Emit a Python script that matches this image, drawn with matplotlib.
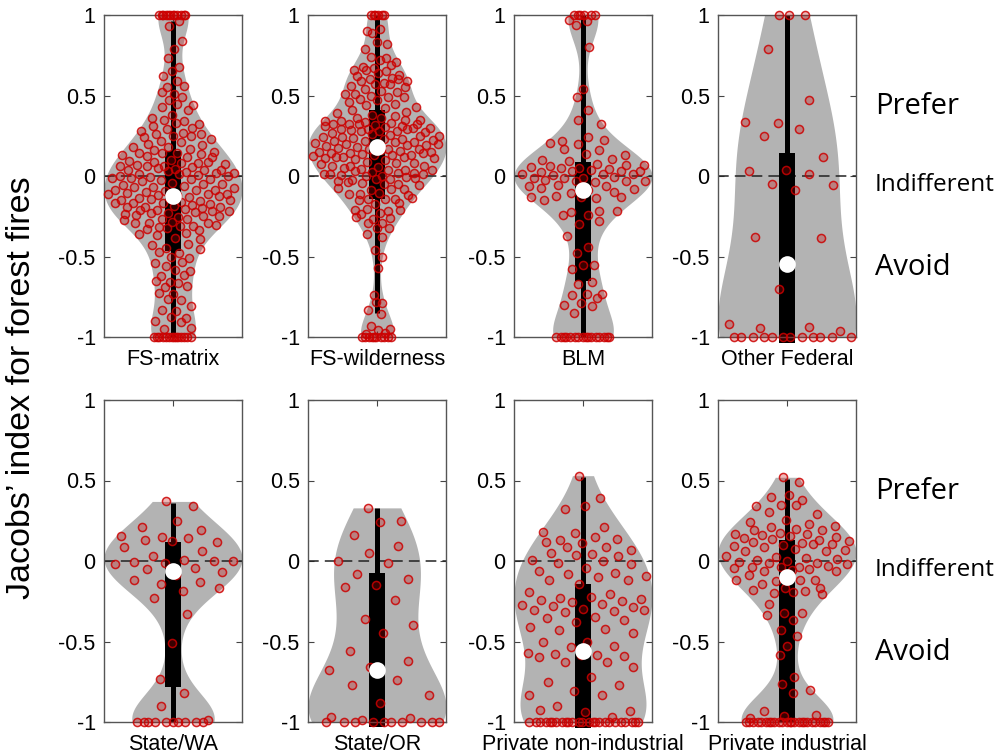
import numpy as np
import matplotlib
matplotlib.use("Agg")
import matplotlib.pyplot as plt


kategorije = ["FS-matrix", "FS-wilderness", "BLM", "Other Federal",
              "State/WA", "State/OR", "Private non-industrial", "Private industrial"]

fs_matrix = [
    1.0, 1.0, 1.0, 1.0, 1.0, 1.0, 1.0, 1.0, 1.0, 1.0, 1.0, 1.0,
    0.96, 0.93, 0.84, 0.79, 0.73, 0.68, 0.65, 0.62, 0.59, 0.55, 0.56, 0.51,
    0.52, 0.49, 0.47, 0.44, 0.45, 0.43, 0.41, 0.38, 0.36, 0.34, 0.35, 0.32,
    0.33, 0.31, 0.30, 0.29, 0.28, 0.27, 0.26, 0.26, 0.25, 0.24, 0.25, 0.22,
    0.23, 0.21, 0.20, 0.19, 0.18, 0.18, 0.17, 0.16, 0.15,
    0.14, 0.145, 0.135, 0.14, 0.13, 0.12, 0.125, 0.115, 0.10, 0.095, 0.08,
    0.085, 0.075, 0.08, 0.07, 0.09, 0.06, 0.065, 0.055, 0.06, 0.04, 0.045,
    0.035, 0.04, 0.05, 0.02, 0.025, 0.015, 0.02, 0.03, 0.0, 0.005, -0.005,
    0.0, 0.01, -0.01,
    -0.02, -0.025, -0.015, -0.02, -0.03, -0.05, -0.045, -0.055, -0.05, -0.07,
    -0.075, -0.065, -0.07, -0.09, -0.095, -0.085, -0.09, -0.10, -0.11, -0.115,
    -0.105, -0.11, -0.12, -0.11, -0.13, -0.135, -0.125, -0.13, -0.15, -0.155,
    -0.145, -0.15, -0.16, -0.17, -0.175, -0.165, -0.17, -0.18, -0.19, -0.195,
    -0.185, -0.19, -0.20, -0.21, -0.215, -0.205, -0.21, -0.22, -0.23, -0.235,
    -0.225, -0.23, -0.25, -0.255, -0.245, -0.25, -0.27, -0.275, -0.265, -0.29,
    -0.295, -0.285, -0.29, -0.31, -0.315, -0.305, -0.31, -0.33, -0.335, -0.325,
    -0.36, -0.355, -0.365, -0.39, -0.385, -0.43, -0.425, -0.45, -0.455, -0.48,
    -0.475, -0.51, -0.505, -0.54, -0.535, -0.56, -0.59, -0.585, -0.62, -0.615,
    -0.66, -0.655, -0.665, -0.69, -0.685, -0.73, -0.725, -0.77, -0.765, -0.81,
    -0.84, -0.835, -0.88, -0.875, -0.90, -0.905, -0.95, -0.945,
    -1.0, -1.0, -1.0, -1.0, -1.0, -1.0, -1.0, -1.0, -1.0, -1.0, -1.0, -1.0,
    -1.0, -1.0,
]

fs_wilderness = [
    1.0, 1.0, 1.0, 1.0, 1.0, 1.0,
    0.90, 0.91, 0.89, 0.82, 0.83, 0.79, 0.73, 0.74, 0.71, 0.72, 0.68, 0.69,
    0.67, 0.66, 0.65, 0.66, 0.63, 0.64, 0.62, 0.61, 0.60, 0.59, 0.58, 0.59,
    0.60, 0.57, 0.56, 0.57, 0.54, 0.55, 0.53, 0.51, 0.52, 0.50, 0.51, 0.49,
    0.48, 0.49, 0.47, 0.46, 0.45, 0.44, 0.43, 0.42, 0.41, 0.40,
    0.38, 0.39, 0.37, 0.36, 0.35, 0.36, 0.34, 0.345, 0.335, 0.34, 0.33, 0.32,
    0.325, 0.315, 0.32, 0.31, 0.32, 0.30, 0.305, 0.295, 0.30, 0.29, 0.31,
    0.28, 0.285, 0.275, 0.28, 0.27, 0.29, 0.28, 0.25, 0.255, 0.245, 0.25,
    0.26, 0.24, 0.23, 0.235, 0.225, 0.23, 0.22, 0.21, 0.215, 0.205, 0.21,
    0.20, 0.19, 0.195, 0.185, 0.19, 0.18, 0.20, 0.17, 0.175, 0.165, 0.17,
    0.15, 0.155, 0.145, 0.15, 0.16, 0.14, 0.13, 0.135, 0.125, 0.13, 0.12,
    0.14, 0.13, 0.11, 0.115, 0.105, 0.11, 0.10, 0.12, 0.08, 0.085, 0.075,
    0.08, 0.06, 0.065, 0.055, 0.06, 0.04, 0.045, 0.035, 0.04, 0.05, 0.02,
    0.025, 0.015, 0.02, 0.03, 0.01, 0.0, 0.005, -0.005, 0.0, 0.01, -0.02,
    -0.025, -0.015, -0.02, -0.03, -0.05, -0.045, -0.055, -0.05, -0.04, -0.08,
    -0.085, -0.075, -0.08, -0.11, -0.115, -0.105, -0.11, -0.14, -0.145,
    -0.135, -0.14, -0.15, -0.17, -0.175, -0.21, -0.215, -0.205, -0.21, -0.23,
    -0.235, -0.26, -0.265, -0.255, -0.29, -0.295, -0.32, -0.325, -0.36, -0.38,
    -0.46, -0.50, -0.57, -0.74, -0.79, -0.785, -0.83, -0.86, -0.93, -0.95,
    -0.955, -0.98, -0.975,
    -1.0, -1.0, -1.0, -1.0, -1.0, -1.0, -1.0, -1.0, -1.0, -1.0,
]

blm = [
    1.0, 1.0, 1.0, 1.0, 1.0, 1.0,
    0.97, 0.96, 0.94, 0.80, 0.54, 0.49, 0.41, 0.35, 0.32, 0.24, 0.22, 0.225,
    0.20, 0.205, 0.16, 0.165, 0.13, 0.135, 0.10, 0.105, 0.095, 0.07, 0.075,
    0.065, 0.07, 0.05, 0.055, 0.045, 0.05, 0.03, 0.035, 0.025, 0.03, 0.028,
    0.01, 0.015, 0.005, 0.01, -0.01, -0.015, -0.005, -0.01, -0.03, -0.035,
    -0.025, -0.03, -0.028, -0.06, -0.065, -0.055, -0.08, -0.085, -0.075,
    -0.10, -0.105, -0.13, -0.135, -0.125, -0.13, -0.128, -0.15, -0.22, -0.225,
    -0.215, -0.24, -0.245, -0.28, -0.30, -0.37, -0.44, -0.48, -0.55, -0.555,
    -0.58, -0.66, -0.67, -0.73, -0.735, -0.74, -0.76, -0.79, -0.80, -0.81,
    -0.85,
    -1.0, -1.0, -1.0, -1.0, -1.0, -1.0, -1.0, -1.0, -1.0, -1.0, -1.0, -1.0,
    -1.0, -1.0, -1.0, -1.0,
]

other_federal = [
    1.0, 1.0, 1.0, 0.79, 0.47, 0.33, 0.335, 0.29, 0.25, 0.12, 0.04, 0.03,
    0.01, -0.05, -0.055, -0.09, -0.38, -0.385, -0.70, -0.92, -0.94, -0.945,
    -0.96,
    -1.0, -1.0, -1.0, -1.0, -1.0, -1.0, -1.0, -1.0, -1.0, -1.0, -1.0, -1.0,
]

state_wa = [
    0.37, 0.34, 0.25, 0.21, 0.19, 0.15, 0.155, 0.14, 0.13, 0.12, 0.125, 0.09,
    0.06, 0.03, 0.0, 0.005, -0.005, 0.0, -0.015, -0.02, -0.045, -0.05, -0.07,
    -0.09, -0.12, -0.13, -0.145, -0.165, -0.185, -0.23, -0.33, -0.51, -0.73,
    -0.82, -0.90, -0.985,
    -1.0, -1.0, -1.0, -1.0, -1.0, -1.0, -1.0, -1.0, -1.0, -1.0,
]

# nekaj tock je skritih za skatlo (-0.6 .. -0.9)
state_or = [
    0.33, 0.25, 0.24, 0.16, 0.095, 0.047, 0.0, -0.015, -0.078, -0.11, -0.15,
    -0.16, -0.24, -0.36, -0.40, -0.45, -0.56, -0.62, -0.66, -0.68, -0.74,
    -0.77, -0.83, -0.88, -0.97, -0.975, -0.985,
    -1.0, -1.0, -1.0, -1.0, -1.0, -1.0, -1.0, -1.0, -1.0, -1.0,
]

private_nonind = [
    0.53, 0.39, 0.34, 0.32, 0.21, 0.175, 0.18, 0.15, 0.13, 0.135, 0.11, 0.115,
    0.085, 0.09, 0.07, 0.045, 0.05, 0.03, 0.035, 0.005, 0.0, -0.015, -0.02,
    -0.045, -0.06, -0.075, -0.08, -0.095, -0.10, -0.115, -0.12, -0.14, -0.19,
    -0.205, -0.23, -0.235, -0.225, -0.245, -0.25, -0.255, -0.275, -0.27,
    -0.28, -0.285, -0.30, -0.305, -0.31, -0.315, -0.305, -0.35, -0.355,
    -0.365, -0.38, -0.41, -0.425, -0.43, -0.45, -0.50, -0.505, -0.53, -0.535,
    -0.57, -0.585, -0.58, -0.59, -0.585, -0.595, -0.627, -0.63, -0.66, -0.72,
    -0.75, -0.77, -0.81, -0.83, -0.835, -0.90, -0.93, -0.935, -0.925, -0.97,
    -1.0, -1.0, -1.0, -1.0, -1.0, -1.0, -1.0, -1.0, -1.0, -1.0, -1.0, -1.0,
    -1.0, -1.0, -1.0, -1.0, -1.0, -1.0, -1.0, -1.0, -1.0, -1.0, -1.0, -1.0,
    -1.0,
]

private_ind = [
    0.52, 0.49, 0.41, 0.395, 0.38, 0.35, 0.34, 0.345, 0.305, 0.29, 0.255,
    0.245, 0.23, 0.21, 0.215, 0.20, 0.19, 0.195, 0.175, 0.165, 0.17, 0.16,
    0.15, 0.155, 0.145, 0.13, 0.135, 0.125, 0.11, 0.115, 0.105, 0.10, 0.095,
    0.105, 0.09, 0.07, 0.075, 0.065, 0.06, 0.025, 0.03, 0.02, 0.005, 0.01,
    0.0, -0.005, -0.01, -0.015, -0.02, -0.035, -0.04, -0.03, -0.035, -0.045,
    -0.05, -0.06, -0.065, -0.055, -0.09, -0.12, -0.125, -0.115, -0.12, -0.14,
    -0.165, -0.17, -0.18, -0.185, -0.20, -0.205, -0.195, -0.27, -0.32, -0.325,
    -0.335, -0.365, -0.43, -0.465, -0.53, -0.585, -0.72, -0.765, -0.80, -0.82,
    -0.93, -0.955, -0.96, -0.975,
    -1.0, -1.0, -1.0, -1.0, -1.0, -1.0, -1.0, -1.0, -1.0, -1.0, -1.0, -1.0,
    -1.0, -1.0, -1.0, -1.0, -1.0, -1.0, -1.0, -1.0, -1.0, -1.0, -1.0, -1.0,
    -1.0,
]

podatki = [fs_matrix, fs_wilderness, blm, other_federal,
           state_wa, state_or, private_nonind, private_ind]

# statistike skatel, odcitane s slike
mediane = [-0.125, 0.18, -0.085, -0.545, -0.065, -0.68, -0.56, -0.10]
kvartil_1 = [-0.465, -0.145, -0.65, -1.035, -0.78, -1.03, -1.035, -1.0]
kvartil_3 = [0.157, 0.41, 0.09, 0.145, 0.115, -0.075, -0.145, 0.13]
brki_spodaj = [-1.0, -0.85, -1.0, -1.0, -1.0, -1.0, -1.0, -1.0]
brki_zgoraj = [0.96, 1.0, 1.0, 1.0, 0.36, 0.33, 0.52, 0.51]

y_ticks = [-1, -0.5, 0, 0.5, 1]
y_tick_labels = ["-1", "-0.5", "0", "0.5", "1"]
desne_oznake = ["Prefer", "Indifferent", "Avoid"]
desne_y = [0.5, 0, -0.5]

sivo = "#b3b3b3"


def gostota(vred, mreza):
    """KDE z Gaussovim jedrom, pasovna sirina kot v ksdensity."""
    vred = np.asarray(vred, dtype=float)
    n = len(vred)
    sig = np.median(np.abs(vred - np.median(vred))) / 0.6745
    if sig <= 0:
        sig = np.std(vred)
    bw = 0.92 * sig * (4.0 / (3.0 * n)) ** 0.2
    z = (mreza[:, None] - vred[None, :]) / bw
    return np.exp(-0.5 * z ** 2).sum(axis=1) / (n * bw * np.sqrt(2 * np.pi))


def violina(ax, i):
    vred = np.asarray(podatki[i], dtype=float)
    mreza = np.linspace(vred.min(), vred.max(), 300)
    d = gostota(vred, mreza)
    sir = 0.5 * d / d.max()
    ax.fill_betweenx(mreza, 1 - sir, 1 + sir, color=sivo, lw=0, zorder=1)
    ax.axhline(0, color="#222222", lw=1.1, ls=(0, (7, 4)), zorder=2)
    ax.plot([1, 1], [brki_spodaj[i], brki_zgoraj[i]], color="black",
            lw=3.6, solid_capstyle="butt", zorder=3, clip_on=False)
    ax.add_patch(plt.Rectangle((1 - 0.055, kvartil_1[i]), 0.11,
                               kvartil_3[i] - kvartil_1[i], color="black",
                               lw=0, zorder=3, clip_on=False))
    # razprsitev tock znotraj sirine violine (deterministicno)
    idx = np.arange(len(vred))
    jit = ((idx * 0.6180339887 + 0.31) % 1.0) * 2 - 1
    sir_t = np.interp(vred, mreza, sir)
    xs = 1 + jit * sir_t * 0.95
    ax.scatter(xs, vred, s=34, facecolor=(0.8, 0, 0, 0.28),
               edgecolor=(0.8, 0, 0, 0.85), lw=1.1, zorder=4, clip_on=False)
    ax.plot([1], [mediane[i]], "o", color="white", ms=12, mec="none",
            zorder=5, clip_on=False)


def glavni():
    fig = plt.figure(figsize=(10.05, 7.54), dpi=100)
    levo = [104, 308, 514, 718]
    vrh = [15, 400]
    osi = []
    for r in range(2):
        for c in range(4):
            ax = fig.add_axes([levo[c] / 1005, (754 - vrh[r] - 322) / 754,
                               138 / 1005, 322 / 754])
            osi.append(ax)
    for i, ax in enumerate(osi):
        violina(ax, i)
        ax.set_xlim(0.5, 1.5)
        ax.set_ylim(-1, 1)
        ax.set_yticks(y_ticks)
        ax.set_yticklabels(y_tick_labels, family="Liberation Sans", fontsize=15.5)
        ax.set_xticks([1])
        ax.set_xticklabels([kategorije[i]], family="Liberation Sans", fontsize=15.5)
        ax.tick_params(direction="in", length=4, width=0.8, color="#444444",
                       top=True, right=True, pad=6)
        ax.tick_params(axis="x", pad=8.5)
        for sp in ax.spines.values():
            sp.set_color("#555555")
            sp.set_linewidth(1.0)
            sp.set_zorder(3.5)
    for ax in (osi[3], osi[7]):
        for oz, yv in zip(desne_oznake, desne_y):
            vel = 17.5 if oz == "Indifferent" else 21
            dy = -11 if oz == "Indifferent" else -13
            ax.annotate(oz, xy=(1, yv), xycoords=("axes fraction", "data"),
                        xytext=(13.5, dy), textcoords="offset points",
                        ha="left", va="baseline", family="Open Sans",
                        fontsize=vel, annotation_clip=False)
    fig.text(22 / 1005, 1 - 388 / 754, "Jacobs\u2019 index for forest fires",
             rotation=90, ha="center", va="center", family="Liberation Sans",
             fontsize=24.5)
    fig.savefig("out.png", dpi=100)
    plt.close(fig)


if __name__ == "__main__":
    glavni()
